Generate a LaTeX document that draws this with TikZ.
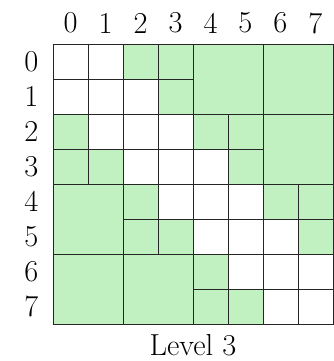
\documentclass[tikz,border=0pt]{standalone}
\definecolor{gr}{RGB}{193,240,193}
\tikzset{
  cell/.style={draw=black!85, line width=0.5pt},
  lbl/.style={font=\LARGE, inner sep=0pt}
}
\begin{document}
\begin{tikzpicture}[x=0.02cm,y=-0.02cm]
\useasboundingbox (0,0) rectangle (334,361);
\begin{scope}[shift={(53,44)}, x=0.7cm, y=-0.7cm]
\foreach \c/\r/\s/\f in {
 0/0/1/white,1/0/1/white,0/1/1/white,1/1/1/white,
 2/0/1/gr,3/0/1/gr,2/1/1/white,3/1/1/gr,
 0/2/1/gr,1/2/1/white,0/3/1/gr,1/3/1/gr,
 2/2/1/white,3/2/1/white,2/3/1/white,3/3/1/white,
 4/0/2/gr,6/0/2/gr,
 4/2/1/gr,5/2/1/gr,4/3/1/white,5/3/1/gr,
 6/2/2/gr,
 0/4/2/gr,
 2/4/1/gr,3/4/1/white,2/5/1/gr,3/5/1/gr,
 0/6/2/gr,2/6/2/gr,
 4/4/1/white,5/4/1/white,4/5/1/white,5/5/1/white,
 6/4/1/gr,7/4/1/gr,6/5/1/white,7/5/1/gr,
 4/6/1/gr,5/6/1/white,4/7/1/gr,5/7/1/gr,
 6/6/1/white,7/6/1/white,6/7/1/white,7/7/1/white}
 { \path[cell, fill=\f] (\c,\r) rectangle ++(\s,\s); }
\foreach \k in {0,...,7} {
  \node[lbl] (col\k) at (\k+0.5,-0.6) {\k};
  \node[lbl] (row\k) at (-0.62,\k+0.5) {\k};
}
\node[lbl] (title) at (4,8.6) {Level 3};
\end{scope}
\end{tikzpicture}
\end{document}
